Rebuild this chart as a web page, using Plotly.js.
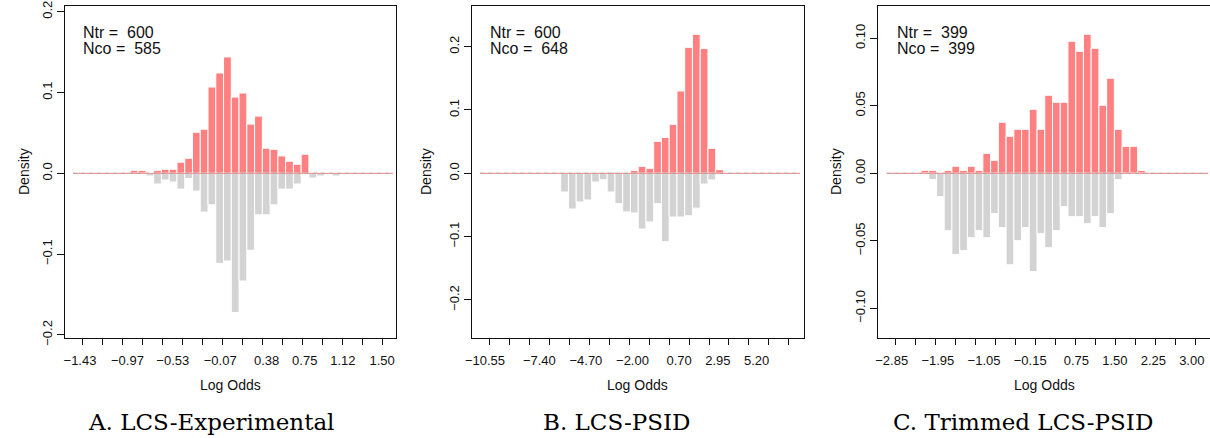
<!DOCTYPE html>
<html><head><meta charset="utf-8">
<script src="https://cdn.plot.ly/plotly-3.0.1.min.js"></script>
<style>html,body{margin:0;padding:0;background:#fff;} #chart{width:1210px;height:438px;}</style>
</head><body><div id="chart"></div>
<script>
// ================= DATA =================
const panelLabels = ['A. LCS-Experimental', 'B. LCS-PSID', 'C. Trimmed LCS-PSID'];
const nTreated = [600, 600, 399];
const nControl = [585, 648, 399];

// Panel A: LCS-Experimental (log odds bins)
const aBinStart = -1.0167;
const aBinWidth = 0.0753;
const aTreated = [0.0012, 0.0037, 0.0037, 0, 0.0037, 0.005, 0.005, 0.0137, 0.0186, 0.0509, 0.0547, 0.1068, 0.1242, 0.1441,
                  0.0944, 0.0994, 0.0609, 0.0708, 0.0311, 0.0298, 0.0215, 0.0149, 0.0112, 0.0236, 0.0012, 0, 0, 0];
const aControl = [0, 0, 0, -0.0033, -0.0132, -0.0083, -0.0108, -0.0195, -0.0066, -0.022, -0.048, -0.039, -0.1114, -0.1085,
                  -0.1723, -0.1333, -0.0952, -0.0513, -0.0513, -0.039, -0.0195, -0.0195, -0.0132, -0.0017, -0.0058, -0.0033, 0, -0.0033];
const aDataExtent = [-1.498, 1.606];
const aTickLabels = [-1.43, -0.97, -0.53, -0.07, 0.38, 0.75, 1.12, 1.50];
const aTickMarks = [-1.408, 1.502];   // first and last of 16 evenly spaced tick marks
const aYTicks = [-0.2, -0.1, 0, 0.1, 0.2];

// Panel B: LCS-PSID
const bBinStart = -6.162;
const bBinWidth = 0.4493;
const bTreated = [0, 0, 0, 0, 0, 0, 0.0016, 0, 0, 0.0047, 0.011, 0.0079, 0.0505, 0.0568, 0.0774, 0.13, 0.199, 0.2195, 0.197, 0.0395, 0.0058];
const bControl = [-0.0295, -0.0563, -0.0453, -0.0421, -0.0137, -0.01, -0.0295, -0.0479, -0.061, -0.0626, -0.0879, -0.0768, -0.0479,
                  -0.108, -0.069, -0.069, -0.067, -0.055, -0.017, -0.0105, -0.002];
const bDataExtent = [-10.84, 7.71];
const bTickLabels = [-10.55, -7.40, -4.70, -2.00, 0.70, 2.95, 5.20];
const bTickMarks = [-10.318, 7.073];
const bYTicks = [-0.2, -0.1, 0, 0.1, 0.2];

// Panel C: Trimmed LCS-PSID
const cBinStart = -2.279;
const cBinWidth = 0.1508;
const cTreated = [0.0022, 0.0022, 0, 0.0022, 0.0052, 0.0022, 0.0052, 0.0022, 0.0148, 0.0096, 0.0378, 0.0274, 0.0326, 0.0326, 0.0474,
                  0.0326, 0.0578, 0.0526, 0.0526, 0.0978, 0.0904, 0.103, 0.0926, 0.0504, 0.0704, 0.0326, 0.02, 0.02, 0.0022];
const cControl = [0, -0.0047, -0.0173, -0.0425, -0.0602, -0.0573, -0.0477, -0.0425, -0.0477, -0.0299, -0.0402, -0.0677, -0.0499,
                  -0.0402, -0.0728, -0.0447, -0.0551, -0.0425, -0.0247, -0.0321, -0.0321, -0.0373, -0.0321, -0.0402, -0.0299,
                  -0.0047, 0, 0, 0];
const cDataExtent = [-2.947, 3.32];
const cTickLabels = [-2.85, -1.95, -1.05, -0.15, 0.75, 1.50, 2.25, 3.00];
const cTickMarks = [-2.772, 3.076];
const cYTicks = [-0.10, -0.05, 0, 0.05, 0.10];

// ================= LAYOUT / STYLE =================
const W = 1210, H = 438;
const RED = '#FF8080', GREY = '#D3D3D3', INK = '#111111';
const boxTop = 6, boxBottom = 338.3;
const yDom = [(H - boxBottom) / H, (H - boxTop) / H];

const panels = [
  {binStart: aBinStart, binWidth: aBinWidth, treated: aTreated, control: aControl, extent: aDataExtent,
   tickLabels: aTickLabels, tickMarks: aTickMarks, yTicks: aYTicks, yDigits: 1,
   xRange: [-1.5755, 1.635], yRange: [-0.2042, 0.2071], px: [65, 396], right: true,
   nX: 81, densX: 24, labX: 210.8},
  {binStart: bBinStart, binWidth: bBinWidth, treated: bTreated, control: bControl, extent: bDataExtent,
   tickLabels: bTickLabels, tickMarks: bTickMarks, yTicks: bYTicks, yDigits: 1,
   xRange: [-11.321, 7.943], yRange: [-0.2605, 0.2642], px: [471.7, 804], right: true,
   nX: 487.5, densX: 426, labX: 616.7},
  {binStart: cBinStart, binWidth: cBinWidth, treated: cTreated, control: cControl, extent: cDataExtent,
   tickLabels: cTickLabels, tickMarks: cTickMarks, yTicks: cYTicks, yDigits: 2,
   xRange: [-3.111, 3.355], yRange: [-0.1222, 0.1239], px: [878.3, 1210], right: false,
   nX: 895, densX: 836, labX: 1023}
];

function fmt(v, d) {
  const s = Math.abs(v).toFixed(d);
  return v < 0 ? '\u2212' + s : s;
}

const traces = [];
const layout = {
  width: W, height: H, margin: {l: 0, r: 0, t: 0, b: 0},
  paper_bgcolor: '#fff', plot_bgcolor: '#fff',
  showlegend: false, barmode: 'overlay', hovermode: false,
  font: {family: 'Liberation Sans, Arial, sans-serif', color: INK, size: 13},
  annotations: []
};

panels.forEach((p, i) => {
  const n = i + 1;
  const xa = n === 1 ? 'x' : 'x' + n;
  const ya = n === 1 ? 'y' : 'y' + n;
  const xl = 'x' + (n + 3);
  const centers = p.treated.map((_, k) => p.binStart + (k + 0.5) * p.binWidth);

  traces.push({type: 'bar', x: centers, y: p.treated, width: p.binWidth, xaxis: xa, yaxis: ya,
    marker: {color: RED, line: {color: '#ffffff', width: 1}}});
  traces.push({type: 'bar', x: centers, y: p.control, width: p.binWidth, xaxis: xa, yaxis: ya,
    marker: {color: GREY, line: {color: '#ffffff', width: 1}}});
  traces.push({type: 'scatter', mode: 'lines', x: p.extent, y: [0, 0], xaxis: xa, yaxis: ya,
    line: {color: RED, width: 1}});
  traces.push({type: 'scatter', mode: 'lines', x: p.extent, y: [0, 0], xaxis: xa, yaxis: ya,
    line: {color: '#a8a8a8', width: 1, dash: '4px,4px'}});

  const nT = 16;
  const tickVals = [];
  for (let k = 0; k < nT; k++) tickVals.push(p.tickMarks[0] + k * (p.tickMarks[1] - p.tickMarks[0]) / (nT - 1));

  const dom = [p.px[0] / W, Math.min(1, p.px[1] / W)];
  layout['xaxis' + (n === 1 ? '' : n)] = {
    domain: dom, anchor: ya, range: p.xRange, fixedrange: true,
    showline: true, mirror: true, linecolor: INK, linewidth: 1,
    showgrid: false, zeroline: false,
    tickmode: 'array', tickvals: tickVals, ticktext: tickVals.map(() => ''),
    ticks: 'outside', ticklen: 6, tickwidth: 1, tickcolor: INK
  };
  layout['xaxis' + (n + 3)] = {
    overlaying: xa, anchor: ya, side: 'bottom', range: p.xRange, fixedrange: true,
    showline: false, showgrid: false, zeroline: false,
    tickmode: 'array', tickvals: p.tickLabels, ticktext: p.tickLabels.map(v => fmt(v, 2)),
    ticks: 'outside', ticklen: 10, tickcolor: 'rgba(0,0,0,0)',
    tickfont: {size: 13, color: INK}
  };
  layout['yaxis' + (n === 1 ? '' : n)] = {
    domain: yDom, anchor: xa, range: p.yRange, fixedrange: true,
    showline: true, mirror: p.right ? true : false, linecolor: INK, linewidth: 1,
    showgrid: false, zeroline: false,
    tickmode: 'array', tickvals: p.yTicks, ticktext: p.yTicks.map(v => fmt(v, p.yDigits)),
    ticks: 'outside', ticklen: 7, tickwidth: 1, tickcolor: INK,
    tickangle: -90, tickfont: {size: 13, color: INK}
  };
  // invisible anchor trace for the label axis
  traces.push({type: 'scatter', mode: 'none', x: p.xRange, y: [0, 0], xaxis: xl, yaxis: ya, hoverinfo: 'skip'});

  const A = layout.annotations;
  A.push({text: 'Ntr = \u00a0' + nTreated[i], xref: 'paper', yref: 'paper', x: p.nX / W, y: (H - 33) / H,
    xanchor: 'left', yanchor: 'middle', showarrow: false, font: {size: 16, color: INK}});
  A.push({text: 'Nco = \u00a0' + nControl[i], xref: 'paper', yref: 'paper', x: p.nX / W, y: (H - 48) / H,
    xanchor: 'left', yanchor: 'middle', showarrow: false, font: {size: 16, color: INK}});
  A.push({text: 'Log Odds', xref: 'paper', yref: 'paper', x: ((p.px[0] + (i === 2 ? 1210.7 : p.px[1])) / 2) / W, y: (H - 385) / H,
    xanchor: 'center', yanchor: 'middle', showarrow: false, font: {size: 14, color: INK}});
  A.push({text: 'Density', xref: 'paper', yref: 'paper', x: p.densX / W, y: (H - 172) / H, textangle: -90,
    xanchor: 'center', yanchor: 'middle', showarrow: false, font: {size: 14, color: INK}});
  A.push({text: panelLabels[i], xref: 'paper', yref: 'paper', x: p.labX / W, y: (H - 422) / H,
    xanchor: 'center', yanchor: 'middle', showarrow: false,
    font: {family: 'DejaVu Serif, serif', size: 23, color: '#000000'}});
});

Plotly.newPlot('chart', traces, layout, {staticPlot: true, displayModeBar: false});
</script>
</body></html>
